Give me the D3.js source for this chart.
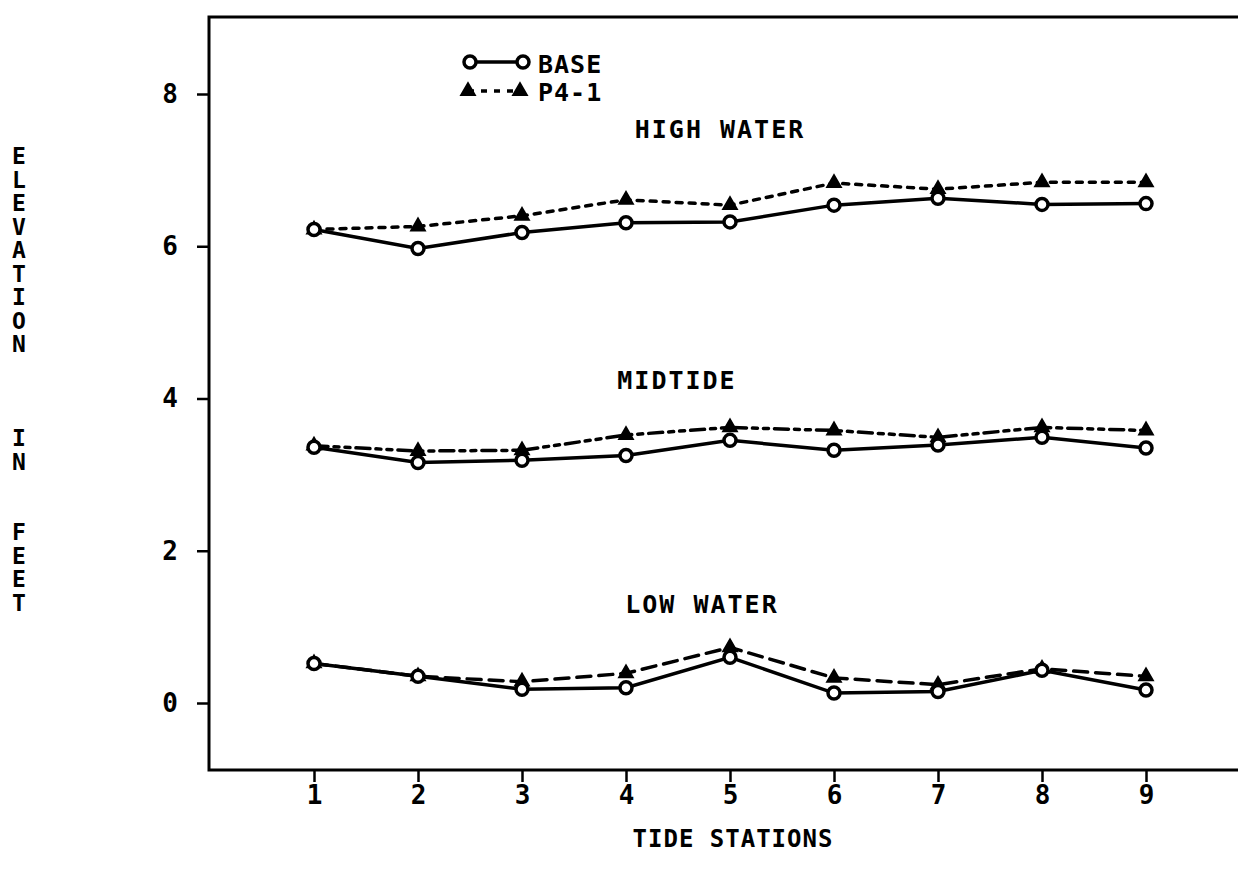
<!DOCTYPE html>
<html>
<head>
<meta charset="utf-8">
<title>Tide elevations</title>
<script src="https://d3js.org/d3.v7.min.js"></script>
<style>
    body { margin: 0; background: #fff; }
    svg text { font-family: "DejaVu Sans Mono", monospace; font-weight: bold; fill: #000; }
</style>
</head>
<body>
<svg id="chart" width="1238" height="877"></svg>
<script>
    // data
    var stations = [1, 2, 3, 4, 5, 6, 7, 8, 9];
    var yTicks = [0, 2, 4, 6, 8];

    var highBase = [6.22, 5.97, 6.18, 6.31, 6.32, 6.54, 6.63, 6.55, 6.56];
    var highP41  = [6.22, 6.26, 6.40, 6.61, 6.54, 6.83, 6.75, 6.84, 6.84];
    var midBase  = [3.36, 3.16, 3.19, 3.25, 3.45, 3.32, 3.39, 3.49, 3.35];
    var midP41   = [3.38, 3.31, 3.32, 3.52, 3.62, 3.58, 3.49, 3.62, 3.58];
    var lowBase  = [0.52, 0.35, 0.18, 0.20, 0.60, 0.13, 0.15, 0.43, 0.17];
    var lowP41   = [0.52, 0.35, 0.28, 0.39, 0.73, 0.33, 0.24, 0.45, 0.35];

    var groups = [
        { label: 'HIGH WATER', base: highBase, plan: highP41, dash: '6,7', lx: 720, ly: 129 },
        { label: 'MIDTIDE',    base: midBase,  plan: midP41,  dash: '14,6,5,6,5,6', lx: 677, ly: 380 },
        { label: 'LOW WATER',  base: lowBase,  plan: lowP41,  dash: '14,8', lx: 702, ly: 604 }
    ];

    var svg = d3.select('#chart');
    var frameLeft = 209, frameTop = 17, frameBottom = 770, frameRight = 1250;

    var x = d3.scaleLinear().domain([1, 9]).range([314, 1146]);
    var y = d3.scaleLinear().domain([0, 8]).range([703, 94]);

    // frame (open on the right, like the plotter output)
    svg.append('path')
        .attr('d', 'M' + frameRight + ',' + frameTop + 'H' + frameLeft + 'V' + frameBottom + 'H' + frameRight)
        .attr('fill', 'none').attr('stroke', '#000').attr('stroke-width', 3);

    var yAxis = svg.append('g')
        .attr('transform', 'translate(' + frameLeft + ',0)')
        .call(d3.axisLeft(y).tickValues(yTicks).tickSize(12).tickPadding(19).tickFormat(d3.format('d')));
    var xAxis = svg.append('g')
        .attr('transform', 'translate(0,' + frameBottom + ')')
        .call(d3.axisBottom(x).tickValues(stations).tickSize(12).tickPadding(4).tickFormat(d3.format('d')));
    [yAxis, xAxis].forEach(function (a) {
        a.select('.domain').remove();
        a.selectAll('.tick line').attr('stroke', '#000').attr('stroke-width', 2.5);
        a.selectAll('.tick text').style('font-size', '26px').attr('fill', '#000');
    });

    // axis titles
    svg.append('text')
        .attr('x', 733).attr('y', 847)
        .attr('text-anchor', 'middle')
        .style('font-size', '24px').style('letter-spacing', '1px')
        .text('TIDE STATIONS');

    var yTitle = 'ELEVATION   IN  FEET'.split('');
    svg.append('g').selectAll('text')
        .data(yTitle)
        .join('text')
        .attr('x', 19)
        .attr('y', function (d, i) { return 156 + i * 23.5; })
        .attr('dy', '0.35em')
        .attr('text-anchor', 'middle')
        .style('font-size', '23px')
        .text(function (d) { return d; });

    var line = d3.line()
        .x(function (d, i) { return x(stations[i]); })
        .y(function (d) { return y(d); });

    var triangle = d3.symbol().type(d3.symbolTriangle).size(80);

    groups.forEach(function (g) {
        svg.append('path').datum(g.plan)
            .attr('d', line).attr('fill', 'none')
            .attr('stroke', '#000').attr('stroke-width', 3.5)
            .attr('stroke-dasharray', g.dash).attr('stroke-linecap', 'round');
        svg.append('path').datum(g.base)
            .attr('d', line).attr('fill', 'none')
            .attr('stroke', '#000').attr('stroke-width', 3.5);

        svg.append('g').selectAll('path')
            .data(g.plan)
            .join('path')
            .attr('d', triangle)
            .attr('transform', function (d, i) { return 'translate(' + x(stations[i]) + ',' + y(d) + ')'; })
            .attr('fill', '#000').attr('stroke', '#000').attr('stroke-width', 2);
        svg.append('g').selectAll('circle')
            .data(g.base)
            .join('circle')
            .attr('cx', function (d, i) { return x(stations[i]); })
            .attr('cy', function (d) { return y(d); })
            .attr('r', 6)
            .attr('fill', '#fff').attr('stroke', '#000').attr('stroke-width', 3.5);

        svg.append('text')
            .attr('x', g.lx).attr('y', g.ly).attr('dy', '0.35em')
            .attr('text-anchor', 'middle')
            .style('font-size', '25px').style('letter-spacing', '2px')
            .text(g.label);
    });

    // legend
    var legend = svg.append('g');
    legend.append('line').attr('x1', 470).attr('x2', 523).attr('y1', 62).attr('y2', 62)
        .attr('stroke', '#000').attr('stroke-width', 3.5);
    legend.selectAll('circle').data([470, 523]).join('circle')
        .attr('cx', function (d) { return d; }).attr('cy', 62).attr('r', 6)
        .attr('fill', '#fff').attr('stroke', '#000').attr('stroke-width', 3.5);
    legend.append('line').attr('x1', 468).attr('x2', 520).attr('y1', 91).attr('y2', 91)
        .attr('stroke', '#000').attr('stroke-width', 3.5).attr('stroke-dasharray', '6,7');
    legend.selectAll('path').data([468, 520]).join('path')
        .attr('d', triangle)
        .attr('transform', function (d) { return 'translate(' + d + ',91)'; })
        .attr('fill', '#000').attr('stroke', '#000').attr('stroke-width', 2);
    legend.append('text').attr('x', 538).attr('y', 64).attr('dy', '0.35em')
        .style('font-size', '25px').style('letter-spacing', '1px').text('BASE');
    legend.append('text').attr('x', 538).attr('y', 92).attr('dy', '0.35em')
        .style('font-size', '25px').style('letter-spacing', '1px').text('P4-1');
</script>
</body>
</html>
